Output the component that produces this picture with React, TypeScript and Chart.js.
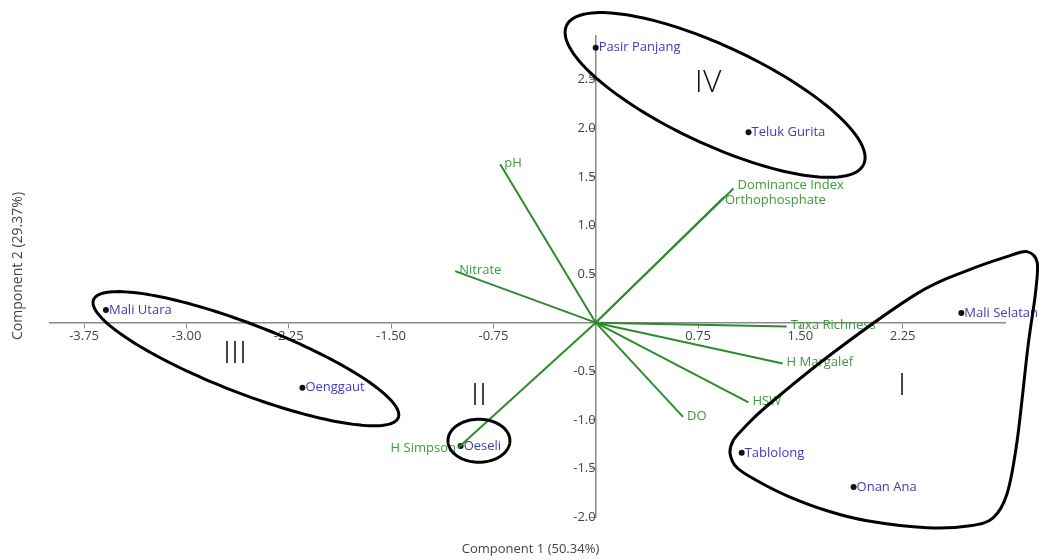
import React, { useEffect, useRef } from 'react';
import { Chart, registerables } from 'chart.js';

Chart.register(...registerables);

// ---- Data ----
const siteNames = ['Pasir Panjang', 'Teluk Gurita', 'Mali Utara', 'Oenggaut', 'Oeseli', 'Mali Selatan', 'Tablolong', 'Onan Ana'];
const siteX = [0.0, 1.12, -3.59, -2.15, -0.99, 2.68, 1.07, 1.89];
const siteY = [2.83, 1.96, 0.13, -0.67, -1.27, 0.1, -1.34, -1.69];

const varNames = ['pH', 'Nitrate', 'Dominance Index', 'Orthophosphate', 'Taxa Richness', 'H Margalef', 'HSW', 'DO', 'H Simpson'];
const varX = [-0.7, -1.03, 1.01, 0.94, 1.4, 1.37, 1.12, 0.64, -1.01];
const varY = [1.63, 0.53, 1.38, 1.29, -0.04, -0.42, -0.82, -0.97, -1.29];

const xTickValues = [-3.75, -3.0, -2.25, -1.5, -0.75, 0.75, 1.5, 2.25];
const yTickValues = [-2.0, -1.5, -1.0, -0.5, 0.5, 1.0, 1.5, 2.0, 2.5];

const xTitle = 'Component 1 (50.34%)';
const yTitle = 'Component 2 (29.37%)';

// group numerals (data units)
const groupNames = ['I', 'II', 'III', 'IV'];
const groupLabelX = [2.245, -0.855, -2.644, 0.824];
const groupLabelY = [-0.649, -0.752, -0.319, 2.471];

// elliptical group outlines: centre + conjugate half-axes (data units)
const ellCX = [-0.856, -2.564, 0.875];
const ellCY = [-1.215, -0.371, 2.343];
const ellUX = [0.227, 1.117, 1.089];
const ellUY = [0.0, -0.606, -0.714];
const ellVX = [0.0, -0.091, -0.152];
const ellVY = [-0.221, -0.331, -0.457];

// group I outline (data units)
const hullX = [3.162, 3.236, 3.221, 3.169, 3.089, 3.015, 2.913, 2.744, 2.429, 1.989, 1.696, 1.403, 1.183, 1.036, 0.985, 1.007, 1.081, 1.257, 1.74, 2.355, 2.722, 3.037];
const hullY = [0.731, 0.618, 0.278, -0.237, -1.215, -1.761, -2.008, -2.091, -2.111, -2.039, -1.936, -1.782, -1.627, -1.493, -1.349, -1.215, -1.092, -0.855, -0.309, 0.299, 0.536, 0.69];

const FONT = '"Open Sans", "Noto Sans", sans-serif';
const LINE_GREEN = '#2f8a2f';
const TEXT_GREEN = '#3d9a3d';
const TEXT_BLUE = '#3c3cb8';
const AXIS_GREY = '#8a8a8a';
const TICK_TEXT = '#444444';

const labelOffsets: Record<string, [number, number]> = {
  'Dominance Index': [4, -3],
  Orthophosphate: [1, 3],
};

const overlayPlugin = {
  id: 'pcaOverlay',
  afterDatasetsDraw(chart: any) {
    const { ctx, scales, chartArea } = chart;
    const xs = scales.x;
    const ys = scales.y;
    const px = (v: number) => xs.getPixelForValue(v);
    const py = (v: number) => ys.getPixelForValue(v);

    ctx.save();
    // variable labels
    ctx.font = `13px ${FONT}`;
    ctx.fillStyle = TEXT_GREEN;
    ctx.textBaseline = 'middle';
    varNames.forEach((n, i) => {
      const x = px(varX[i]);
      const y = py(varY[i]);
      if (n === 'H Simpson') {
        ctx.textAlign = 'right';
        ctx.fillText(n, x - 2, y);
      } else {
        const off = labelOffsets[n] || [4, -1];
        ctx.textAlign = 'left';
        ctx.fillText(n, x + off[0], y + off[1]);
      }
    });

    // site labels
    ctx.fillStyle = TEXT_BLUE;
    ctx.textAlign = 'left';
    siteNames.forEach((n, i) => {
      ctx.fillText(n, px(siteX[i]) + 3, py(siteY[i]));
    });

    // ellipses
    ctx.strokeStyle = '#000';
    ctx.lineWidth = 3;
    ellCX.forEach((cx, k) => {
      ctx.beginPath();
      const N = 160;
      for (let j = 0; j <= N; j++) {
        const t = (j / N) * Math.PI * 2;
        const dx = cx + ellUX[k] * Math.cos(t) + ellVX[k] * Math.sin(t);
        const dy = ellCY[k] + ellUY[k] * Math.cos(t) + ellVY[k] * Math.sin(t);
        if (j === 0) ctx.moveTo(px(dx), py(dy));
        else ctx.lineTo(px(dx), py(dy));
      }
      ctx.closePath();
      ctx.stroke();
    });

    // group I hull: closed Catmull-Rom spline
    const pts = hullX.map((x, i) => [px(x), py(hullY[i])]);
    const n = pts.length;
    ctx.beginPath();
    ctx.moveTo(pts[0][0], pts[0][1]);
    for (let i = 0; i < n; i++) {
      const p0 = pts[(i - 1 + n) % n];
      const p1 = pts[i];
      const p2 = pts[(i + 1) % n];
      const p3 = pts[(i + 2) % n];
      ctx.bezierCurveTo(
        p1[0] + (p2[0] - p0[0]) / 6, p1[1] + (p2[1] - p0[1]) / 6,
        p2[0] - (p3[0] - p1[0]) / 6, p2[1] - (p3[1] - p1[1]) / 6,
        p2[0], p2[1]
      );
    }
    ctx.closePath();
    ctx.stroke();

    // group numerals
    ctx.fillStyle = '#111';
    ctx.font = `300 32px ${FONT}`;
    ctx.textAlign = 'center';
    ctx.textBaseline = 'middle';
    groupNames.forEach((g, i) => {
      ctx.fillText(g, px(groupLabelX[i]), py(groupLabelY[i]));
    });

    // axis titles
    ctx.fillStyle = TICK_TEXT;
    ctx.font = `13px ${FONT}`;
    ctx.fillText(xTitle, (chartArea.left + chartArea.right) / 2 + 3, chart.height - 11);
    ctx.translate(18, 266);
    ctx.rotate(-Math.PI / 2);
    ctx.font = `14px ${FONT}`;
    ctx.fillText(yTitle, 0, 0);
    ctx.restore();
  },
};

export default function App() {
  const canvasRef = useRef<HTMLCanvasElement>(null);

  useEffect(() => {
    const canvas = canvasRef.current;
    if (!canvas) return;

    const vectorSets = varNames.map((n, i) => ({
      label: n,
      data: [
        { x: 0, y: 0 },
        { x: varX[i], y: varY[i] },
      ],
      showLine: true,
      borderColor: LINE_GREEN,
      borderWidth: 2,
      pointRadius: 0,
      clip: false as any,
    }));

    const siteSet = {
      label: 'Sites',
      data: siteX.map((x, i) => ({ x, y: siteY[i] })),
      pointRadius: 3,
      pointBackgroundColor: '#111',
      pointBorderWidth: 0,
      showLine: false,
      clip: false as any,
    };

    const chart = new Chart(canvas, {
      type: 'scatter',
      data: { datasets: [...vectorSets, siteSet] as any },
      plugins: [overlayPlugin],
      options: {
        responsive: false,
        animation: false,
        devicePixelRatio: 1,
        layout: { padding: { left: 50, right: 34, top: 36, bottom: 43 } },
        plugins: {
          legend: { display: false },
          tooltip: { enabled: false },
          title: { display: false },
        },
        scales: {
          x: {
            type: 'linear',
            min: -4.0,
            max: 3.0,
            position: { y: 0 } as any,
            afterBuildTicks: (scale: any) => {
              scale.ticks = xTickValues.map((v) => ({ value: v }));
            },
            grid: {
              display: true,
              drawOnChartArea: false,
              drawTicks: true,
              tickLength: 5,
              color: AXIS_GREY,
              lineWidth: 1,
            },
            border: { display: true, color: AXIS_GREY, width: 1.5 },
            ticks: {
              color: TICK_TEXT,
              font: { family: FONT, size: 13 },
              padding: 1,
              maxRotation: 0,
              autoSkip: false,
              callback: (v: any) => Number(v).toFixed(2),
            },
          },
          y: {
            type: 'linear',
            min: -2.0,
            max: 2.95,
            position: { x: 0 } as any,
            afterBuildTicks: (scale: any) => {
              scale.ticks = yTickValues.map((v) => ({ value: v }));
            },
            grid: {
              display: true,
              drawOnChartArea: false,
              drawTicks: true,
              tickLength: 5,
              color: AXIS_GREY,
              lineWidth: 1,
            },
            border: { display: true, color: AXIS_GREY, width: 1.5 },
            ticks: {
              color: TICK_TEXT,
              font: { family: FONT, size: 13 },
              padding: 1,
              autoSkip: false,
              callback: (v: any) => Number(v).toFixed(1),
            },
          },
        },
      },
    });

    return () => chart.destroy();
  }, []);

  return (
    <div style={{ position: 'fixed', left: 0, top: 0, width: 1039, height: 560, background: '#ffffff' }}>
      <canvas ref={canvasRef} width={1039} height={560} style={{ display: 'block' }} />
    </div>
  );
}
